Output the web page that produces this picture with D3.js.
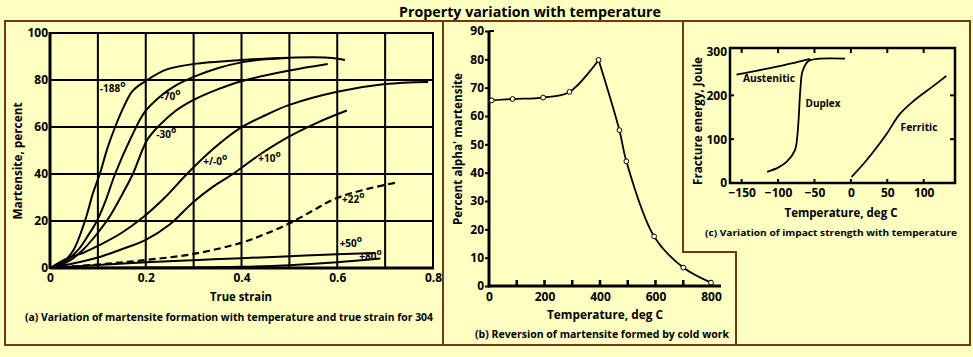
<!DOCTYPE html>
<html><head><meta charset="utf-8">
<script src="https://cdn.jsdelivr.net/npm/d3@7"></script>
<style>
body{margin:0;background:#ffffc2;}
svg{display:block;}
text{font-family:"Open Sans",Lato,sans-serif;font-weight:bold;fill:#000;}
</style></head><body>
<svg id="chart" width="973" height="357"></svg>
<script>
// ---------- Panel (a): martensite (%) vs true strain ----------
const strainTicks = [0, 0.2, 0.4, 0.6, 0.8];
const strainGrid = [0, 0.1, 0.2, 0.3, 0.4, 0.5, 0.6, 0.7, 0.8];
const martTicks = [0, 20, 40, 60, 80, 100];
const curveM188 = [[0,0],[0.03,3],[0.05,8],[0.073,20],[0.09,32],[0.104,40],[0.12,51],[0.136,60],[0.155,69],[0.173,75.5],[0.203,80],[0.244,84.5],[0.3,86.8],[0.4,88.5],[0.5,89.5],[0.59,89.4],[0.616,88.5]];
const curveM70 = [[0,0],[0.03,2.5],[0.06,8],[0.08,14],[0.098,20],[0.115,28],[0.136,40],[0.167,54.5],[0.198,66.4],[0.23,73],[0.257,77],[0.3,81.3],[0.35,85],[0.4,87.5],[0.45,88.8],[0.5,89.4]];
const curveM30 = [[0,0],[0.04,3],[0.07,8],[0.1,15],[0.125,22],[0.15,31],[0.173,40],[0.203,54.5],[0.23,61],[0.26,66.5],[0.3,71.5],[0.35,76],[0.4,79.5],[0.5,84],[0.58,86.8]];
const curveP0 = [[0,0],[0.035,4],[0.07,6.5],[0.104,9.8],[0.15,15],[0.195,21.7],[0.24,30],[0.286,40],[0.34,50.5],[0.397,59.5],[0.45,65],[0.5,69.4],[0.6,75],[0.7,78.3],[0.79,79.2]];
const curveP10 = [[0,0],[0.05,2],[0.104,4.7],[0.15,8],[0.2,12],[0.25,18.5],[0.299,28],[0.34,34.5],[0.382,40],[0.44,48.5],[0.5,56],[0.56,62],[0.62,67]];
const curveP22 = [[0,0],[0.1,1.5],[0.2,3.4],[0.3,6],[0.397,10.6],[0.45,14.5],[0.5,19],[0.55,24.5],[0.59,29],[0.65,33],[0.727,36.5]];
const curveP50 = [[0,0],[0.1,1.3],[0.2,2.4],[0.3,3.3],[0.4,4.2],[0.5,5],[0.6,5.8],[0.68,6.4]];
const curveP80 = [[0,0],[0.2,0.2],[0.4,0.5],[0.5,1.2],[0.6,2.4],[0.69,4.0]];
const labelsA = [
  {t:"-188", x:0.104, y:74.8},
  {t:"-70", x:0.231, y:71.5},
  {t:"-30", x:0.222, y:55.5},
  {t:"+/-0", x:0.32, y:44},
  {t:"+10", x:0.435, y:45},
  {t:"+22", x:0.61, y:27.5},
  {t:"+50", x:0.605, y:9},
  {t:"+80", x:0.646, y:3.2}
];

// ---------- Panel (b): reversion of martensite ----------
const tempB = [10, 85, 195, 290, 395, 470, 495, 595, 700, 800];
const alphaB = [65.5, 66, 66.5, 68.5, 79.8, 55, 44, 17.5, 6.5, 1.2];
const tempBTicks = [0, 200, 400, 600, 800];
const tempBMinor = [100, 200, 300, 400, 500, 600, 700, 800];
const alphaBTicks = [0, 10, 20, 30, 40, 50, 60, 70, 80, 90];

// ---------- Panel (c): impact strength ----------
const tempCTicks = [-150, -100, -50, 0, 50, 100];
const energyTicks = [0, 100, 200, 300];
const austenitic = [[-157,247],[-130,256],[-100,266],[-75,275],[-56,283]];
const duplex = [[-115,25.5],[-100,35],[-88.4,48],[-76.9,74.5],[-73.7,104.5],[-71.9,142],[-69.2,217],[-66.4,255],[-58.6,277.6],[-42.6,283.6],[-8,283.6]];
const ferritic = [[1,14],[21.5,52],[49,112],[67,157],[86,187],[113,221],[131,244]];

const svg = d3.select("#chart");
const brown = "#6e3a12";

function txt(g, s, x, y, size, len, anchor){
  const t = g.append("text").attr("x",x).attr("y",y).attr("font-size",size)
    .attr("text-anchor",anchor||"middle").text(s);
  if(len) t.attr("textLength",len).attr("lengthAdjust","spacingAndGlyphs");
  return t;
}
function vtxt(g, s, x, y, size, len){
  const t = g.append("text").attr("transform",`translate(${x},${y}) rotate(-90)`)
    .attr("font-size",size).attr("text-anchor","middle").text(s);
  if(len) t.attr("textLength",len).attr("lengthAdjust","spacingAndGlyphs");
  return t;
}
function styleAxis(a){
  a.select(".domain").remove();
  a.selectAll("text").attr("font-size",12).attr("font-family","Open Sans").attr("font-weight","bold");
}

// title
txt(svg,"Property variation with temperature",530,17,15,262);

// frame borders
svg.append("path").attr("fill","none").attr("stroke",brown).attr("stroke-width",2)
  .attr("d","M5,21H970V345H5Z M443,21V345 M683,21V252H736V345");

// ===== Panel (a)
const xA = d3.scaleLinear([0,0.8],[50,433]);
const yA = d3.scaleLinear([0,100],[268,33]);
const gA = svg.append("g");
gA.selectAll("line.vg").data(strainGrid).join("line")
  .attr("x1",d=>xA(d)).attr("x2",d=>xA(d)).attr("y1",yA(0)+1).attr("y2",yA(100)-1)
  .attr("stroke","#000").attr("stroke-width",d=>d===0?3:2);
gA.selectAll("line.hg").data(martTicks).join("line")
  .attr("y1",d=>yA(d)).attr("y2",d=>yA(d)).attr("x1",xA(0)).attr("x2",xA(0.8)+1)
  .attr("stroke","#000").attr("stroke-width",d=>d===0?3:2);
const axA_x = gA.append("g").attr("transform",`translate(0,${yA(0)})`)
  .call(d3.axisBottom(xA).tickValues(strainTicks).tickSize(0).tickPadding(5)
  .tickFormat(d=>d===0?"0":d3.format(".1f")(d)));
const axA_y = gA.append("g").attr("transform",`translate(${xA(0)},0)`)
  .call(d3.axisLeft(yA).tickValues(martTicks).tickSize(0).tickPadding(2));
styleAxis(axA_x); styleAxis(axA_y);

const lineA = d3.line().x(d=>xA(d[0])).y(d=>yA(d[1])).curve(d3.curveCatmullRom.alpha(0.5));
[curveM188,curveM70,curveM30,curveP0,curveP10,curveP50,curveP80].forEach(c=>{
  gA.append("path").attr("d",lineA(c)).attr("fill","none").attr("stroke","#000").attr("stroke-width",2);
});
gA.append("path").attr("d",lineA(curveP22)).attr("fill","none").attr("stroke","#000")
  .attr("stroke-width",2.2).attr("stroke-dasharray","7,4");

const labA = gA.selectAll("text.lab").data(labelsA).join("text")
  .attr("x",d=>xA(d.x)).attr("y",d=>yA(d.y)).attr("font-size",10);
labA.append("tspan").text(d=>d.t);
labA.append("tspan").attr("dy",-5).attr("font-size",8.5).text("o");

txt(gA,"True strain",241,301,12,62);
vtxt(gA,"Martensite, percent",22,161,12,117);
txt(gA,"(a) Variation of martensite formation with temperature and true strain for 304",229,321,10,408);

// ===== Panel (b)
const xB = d3.scaleLinear([0,800],[489,711]);
const yB = d3.scaleLinear([0,90],[286,31]);
const gB = svg.append("g");
gB.append("line").attr("x1",xB(0)).attr("x2",721).attr("y1",yB(0)).attr("y2",yB(0)).attr("stroke","#000").attr("stroke-width",3);
gB.append("line").attr("x1",xB(0)).attr("x2",xB(0)).attr("y1",yB(0)+1.5).attr("y2",yB(90)).attr("stroke","#000").attr("stroke-width",3);
gB.append("line").attr("x1",xB(0)).attr("x2",xB(0)+5).attr("y1",yB(90)).attr("y2",yB(90)).attr("stroke","#000").attr("stroke-width",2);
gB.selectAll("line.mt").data(tempBMinor).join("line")
  .attr("x1",d=>xB(d)).attr("x2",d=>xB(d)).attr("y1",yB(0)).attr("y2",yB(0)-6)
  .attr("stroke","#000").attr("stroke-width",2.5);
const axB_x = gB.append("g").attr("transform",`translate(0,${yB(0)})`)
  .call(d3.axisBottom(xB).tickValues(tempBTicks).tickSize(0).tickPadding(6));
const axB_y = gB.append("g").attr("transform",`translate(${xB(0)},0)`)
  .call(d3.axisLeft(yB).tickValues(alphaBTicks).tickSize(4).tickPadding(1));
styleAxis(axB_x); styleAxis(axB_y);
axB_y.selectAll("line").attr("stroke-width",2);

const ptsB = tempB.map((t,i)=>[t,alphaB[i]]);
const peak = alphaB.indexOf(d3.max(alphaB));
const lineB = d3.line().x(d=>xB(d[0])).y(d=>yB(d[1])).curve(d3.curveCatmullRom.alpha(0.5));
gB.append("path").attr("d",lineB(ptsB.slice(0,peak+1))).attr("fill","none").attr("stroke","#000").attr("stroke-width",1.8);
gB.append("path").attr("d",lineB(ptsB.slice(peak))).attr("fill","none").attr("stroke","#000").attr("stroke-width",1.8);
gB.selectAll("circle").data(ptsB).join("circle")
  .attr("cx",d=>xB(d[0])).attr("cy",d=>yB(d[1])).attr("r",2.4)
  .attr("fill","#ffffe8").attr("stroke","#000").attr("stroke-width",1);
txt(gB,"Temperature, deg C",605,319,12,116);
vtxt(gB,"Percent alpha' martensite",462,149,12,152);
txt(gB,"(b) Reversion of martensite formed by cold work",602,338,10.5,254);

// ===== Panel (c)
const xC = d3.scaleLinear([-166,143],[730,955]);
const yC = d3.scaleLinear([0,308],[183,48]);
const gC = svg.append("g");
gC.append("rect").attr("x",xC(-166)).attr("y",yC(308)).attr("width",xC(143)-xC(-166)).attr("height",yC(0)-yC(308))
  .attr("fill","none").attr("stroke","#000").attr("stroke-width",2.5);
gC.selectAll("line.tt").data(tempCTicks).join("line")
  .attr("x1",d=>xC(d)).attr("x2",d=>xC(d)).attr("y1",yC(308)).attr("y2",yC(308)+5).attr("stroke","#000").attr("stroke-width",2);
gC.selectAll("line.bt").data(tempCTicks).join("line")
  .attr("x1",d=>xC(d)).attr("x2",d=>xC(d)).attr("y1",yC(0)).attr("y2",yC(0)-4).attr("stroke","#000").attr("stroke-width",2);
gC.selectAll("line.rt").data([100,200]).join("line")
  .attr("x1",xC(143)).attr("x2",xC(143)-5).attr("y1",d=>yC(d)).attr("y2",d=>yC(d)).attr("stroke","#000").attr("stroke-width",2);
gC.selectAll("line.lt").data([100,200]).join("line")
  .attr("x1",xC(-166)).attr("x2",xC(-166)+4).attr("y1",d=>yC(d)).attr("y2",d=>yC(d)).attr("stroke","#000").attr("stroke-width",2);
const axC_x = gC.append("g").attr("transform",`translate(0,${yC(0)})`)
  .call(d3.axisBottom(xC).tickValues(tempCTicks).tickSize(0).tickPadding(5));
const axC_y = gC.append("g").attr("transform",`translate(${xC(-166)},0)`)
  .call(d3.axisLeft(yC).tickValues(energyTicks).tickSize(0).tickPadding(3));
styleAxis(axC_x); styleAxis(axC_y);
const lineC = d3.line().x(d=>xC(d[0])).y(d=>yC(d[1])).curve(d3.curveCatmullRom.alpha(0.5));
[austenitic,duplex,ferritic].forEach(c=>{
  gC.append("path").attr("d",lineC(c)).attr("fill","none").attr("stroke","#000").attr("stroke-width",1.8);
});
txt(gC,"Austenitic",769,82,10.5,52);
txt(gC,"Duplex",823,107,10.5,35);
txt(gC,"Ferritic",919,131,10.5,37);
txt(gC,"Temperature, deg C",841,217,12,113);
vtxt(gC,"Fracture energy, Joule",702,121,12,128);
txt(gC,"(c) Variation of impact strength with temperature",831,236,9.5,252);
</script>
</body></html>
